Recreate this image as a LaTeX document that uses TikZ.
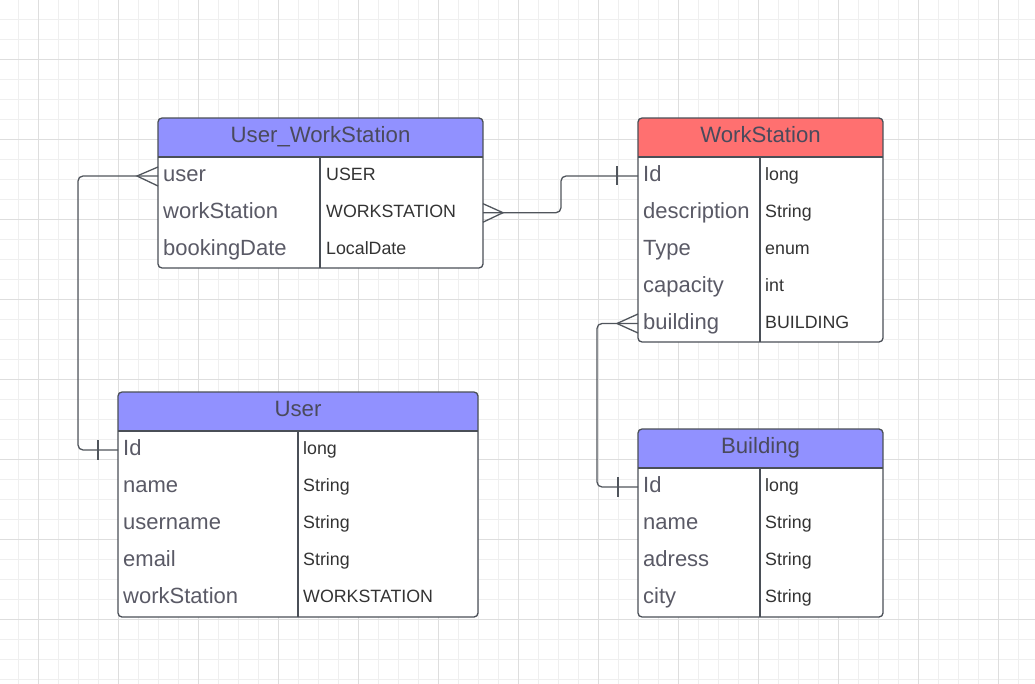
\documentclass[tikz,border=0pt]{standalone}
\usepackage{fontspec}
\setmainfont{Liberation Sans}
\definecolor{hblue}{HTML}{9191FF}
\definecolor{hred}{HTML}{FF7070}
\definecolor{bord}{HTML}{4A4F57}
\definecolor{ntext}{HTML}{5A5A66}
\definecolor{htext}{HTML}{4A4A5C}
\definecolor{ttext}{HTML}{333333}
\definecolor{gridminor}{HTML}{EFEFEF}
\definecolor{gridmajor}{HTML}{DEDEDE}
\definecolor{conn}{HTML}{50555C}
\newcommand\ertbox[7]{%
  \begin{scope}
    \clip[rounded corners=4pt] (#2,#3) rectangle ++(#4,#5);
    \fill[white] (#2,#3) rectangle ++(#4,#5);
    \fill[#6] (#2,#3) rectangle ++(#4,39);
  \end{scope}
  \node[frame, anchor=north west, minimum width=#4pt, minimum height=#5pt] (#1) at (#2,#3) {};
  \draw[sepline] (#1.north west) ++(0,39) -- ++(#4,0);
  \draw[sepline] (#1.north west) ++(#7,39) -- ++(0,#5-39);
}
\begin{document}
\begin{tikzpicture}[x=1pt,y=-1pt,
  title/.style={anchor=base, text=htext, font=\fontsize{22.2}{26}\selectfont, inner sep=0},
  fname/.style={anchor=base west, text=ntext, font=\fontsize{22}{26}\selectfont, inner sep=0},
  ftype/.style={anchor=base west, text=ttext, font=\fontsize{17.8}{21}\selectfont, inner sep=0},
  frame/.style={draw=bord, line width=1.3pt, rounded corners=4pt, inner sep=0, outer sep=0},
  sepline/.style={draw=bord, line width=1.3pt},
  link/.style={draw=conn, line width=1.3pt, rounded corners=5pt},
  tick/.style={draw=conn, line width=1.3pt}]
\useasboundingbox (0,0) rectangle (1035,684);
\fill[white] (0,0) rectangle (1035,684);
% grid
\foreach \i in {0,...,51} {\draw[gridminor, line width=1pt] (18.3+20*\i,0) -- ++(0,684);}
\foreach \i in {0,...,34} {\draw[gridminor, line width=1pt] (0,19.3+20*\i) -- ++(1035,0);}
\foreach \i in {0,...,12} {\draw[gridmajor, line width=1pt] (38.3+80*\i,0) -- ++(0,684);}
\foreach \i in {0,...,8} {\draw[gridmajor, line width=1pt] (0,59.3+80*\i) -- ++(1035,0);}

% tables
\ertbox{uws}{158}{118}{325}{150}{hblue}{162}
\ertbox{ws}{638}{118}{245}{224}{hred}{122}
\ertbox{usr}{118}{392}{360}{225}{hblue}{180}
\ertbox{bld}{638}{429}{245}{188}{hblue}{122}

% titles
\node[title] (uwsT) at (320.5,142.2) {User\_WorkStation};
\node[title] (wsT) at (760.5,142.2) {WorkStation};
\node[title] (usrT) at (298,416.2) {User};
\node[title] (bldT) at (760.5,453.2) {Building};

% User_WorkStation rows
\node[fname] (uws1) at (163,181.5) {user};
\node[fname] (uws2) at (163,218.5) {workStation};
\node[fname] (uws3) at (163,255.5) {bookingDate};
\node[ftype] (uws1t) at (326,180.7) {USER};
\node[ftype] (uws2t) at (326,217.7) {WORKSTATION};
\node[ftype] (uws3t) at (326,254.7) {LocalDate};

% WorkStation rows
\node[fname] (ws1) at (643,181.5) {Id};
\node[fname] (ws2) at (643,218.5) {description};
\node[fname] (ws3) at (643,255.5) {Type};
\node[fname] (ws4) at (643,292.5) {capacity};
\node[fname] (ws5) at (643,329.5) {building};
\node[ftype] (ws1t) at (765,180.7) {long};
\node[ftype] (ws2t) at (765,217.7) {String};
\node[ftype] (ws3t) at (765,254.7) {enum};
\node[ftype] (ws4t) at (765,291.7) {int};
\node[ftype] (ws5t) at (765,328.7) {BUILDING};

% User rows
\node[fname] (usr1) at (123,455.5) {Id};
\node[fname] (usr2) at (123,492.5) {name};
\node[fname] (usr3) at (123,529.5) {username};
\node[fname] (usr4) at (123,566.5) {email};
\node[fname] (usr5) at (123,603.5) {workStation};
\node[ftype] (usr1t) at (303,454.7) {long};
\node[ftype] (usr2t) at (303,491.7) {String};
\node[ftype] (usr3t) at (303,528.7) {String};
\node[ftype] (usr4t) at (303,565.7) {String};
\node[ftype] (usr5t) at (303,602.7) {WORKSTATION};

% Building rows
\node[fname] (bld1) at (643,492.5) {Id};
\node[fname] (bld2) at (643,529.5) {name};
\node[fname] (bld3) at (643,566.5) {adress};
\node[fname] (bld4) at (643,603.5) {city};
\node[ftype] (bld1t) at (765,491.7) {long};
\node[ftype] (bld2t) at (765,528.7) {String};
\node[ftype] (bld3t) at (765,565.7) {String};
\node[ftype] (bld4t) at (765,602.7) {String};

% connector end points
\coordinate (uwsU) at (158,176);
\coordinate (uwsW) at (483,212.7);
\coordinate (wsId) at (638,176);
\coordinate (wsB) at (638,323.5);
\coordinate (usrId) at (118,450);
\coordinate (bldId) at (638,487);

% User_WorkStation.user >--|| User.Id
\draw[link] (uwsU) -- ++(-80,0) |- (usrId);
\draw[tick] (uwsU) ++(0,-9) -- ++(-21,9) -- ++(21,10);
\draw[tick] (usrId) ++(-20,-10) -- ++(0,20);

% WorkStation.Id ||--< User_WorkStation.workStation
\draw[link] (wsId) -- ++(-77,0) |- (uwsW);
\draw[tick] (wsId) ++(-21,-9.5) -- ++(0,19);
\draw[tick] (uwsW) ++(0,-9) -- ++(20,9) -- ++(-20,9.5);

% WorkStation.building >--|| Building.Id
\draw[link] (wsB) -- ++(-41,0) |- (bldId);
\draw[tick] (wsB) ++(0,-9.5) -- ++(-21,9.5) -- ++(21,9.5);
\draw[tick] (bldId) ++(-20,-10) -- ++(0,20);
\end{tikzpicture}
\end{document}
